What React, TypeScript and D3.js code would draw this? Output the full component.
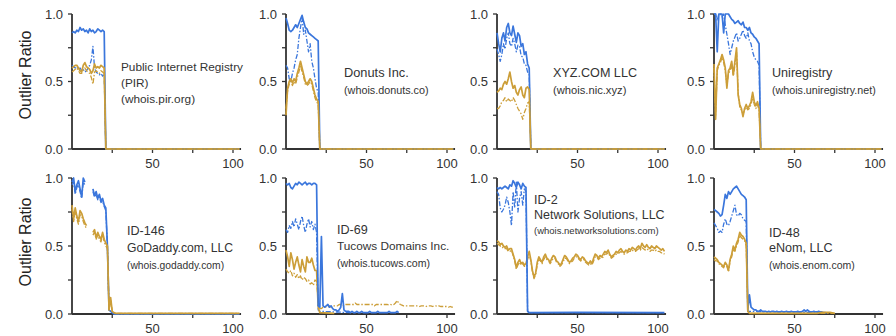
import React from "react";
import * as d3 from "d3";

type V = number | null;
type Pt = [number, number];

// ---------- data (day index starts at 0) ----------
const X_TICKS = [25, 50, 75, 100];
const X_LABELS = [50, 100];
const Y_TICKS = [0, 0.25, 0.5, 0.75, 1];
const Y_LABELS = [0, 0.5, 1];
const Y_TITLE = "Outlier Ratio";
const ZERO_TAIL: Pt[] = [[104, 0]];

// Public Internet Registry
const pirBlue: V[] = [0.86,0.87,0.86,0.88,0.87,0.9,0.88,0.89,0.87,0.88,0.86,0.89,0.87,0.88,0.86,0.87,0.89,0.88,0.87,0.88,0.87,0];
const pirBlueDash: V[] = [0.62,0.61,0.6,0.61,0.59,0.6,0.58,0.59,0.57,0.58,0.6,0.62,0.66,0.76,0.6,0.57,0.56,0.55,0.56,0.54,0.55,0];
const pirGold: V[] = [0.6,0.61,0.62,0.62,0.6,0.58,0.57,0.62,0.64,0.61,0.6,0.59,0.56,0.58,0.63,0.6,0.61,0.6,0.62,0.61,0.6,0];
const pirGoldDash: V[] = [0.57,0.58,0.59,0.6,0.58,0.56,0.56,0.59,0.6,0.58,0.57,0.56,0.53,0.48,0.57,0.58,0.57,0.56,0.58,0.57,0.56,0];

// Donuts
const donBlue: V[] = [0.97,0.93,0.88,0.87,0.88,0.9,0.92,0.9,0.93,0.96,0.99,0.94,0.9,0.89,0.86,0.85,0.84,0.83,0.82,0.81,0.8,0];
const donBlueDash: V[] = [0.62,0.6,0.52,0.5,0.56,0.6,0.66,0.7,0.82,0.9,0.97,0.85,0.88,0.8,0.72,0.78,0.65,0.6,0.52,0.45,0.42,0];
const donGold: V[] = [0.25,0.45,0.5,0.52,0.49,0.52,0.5,0.56,0.6,0.65,0.6,0.55,0.5,0.48,0.5,0.52,0.5,0.45,0.4,0.37,0.35,0];
const donGoldDash: V[] = [0.3,0.43,0.48,0.5,0.47,0.5,0.48,0.53,0.57,0.62,0.57,0.53,0.48,0.47,0.48,0.5,0.48,0.43,0.38,0.35,0.33,0];

// XYZ.COM
const xyzBlue: V[] = [0.86,0.78,0.72,0.82,0.86,0.8,0.9,0.93,0.86,0.84,0.91,0.85,0.79,0.86,0.84,0.76,0.78,0.7,0.72,0.63,0.6,0];
const xyzBlueDash: V[] = [0.74,0.7,0.65,0.7,0.78,0.74,0.82,0.86,0.78,0.76,0.82,0.78,0.72,0.77,0.76,0.69,0.68,0.63,0.62,0.57,0.55,0];
const xyzGold: V[] = [0.42,0.43,0.45,0.44,0.48,0.5,0.48,0.52,0.57,0.5,0.45,0.47,0.42,0.4,0.44,0.46,0.4,0.38,0.45,0.46,0.44,0];
const xyzGoldDash: V[] = [0.3,0.3,0.32,0.35,0.36,0.38,0.35,0.37,0.36,0.35,0.38,0.36,0.33,0.3,0.28,0.26,0.22,0.27,0.3,0.34,0.35,0];

// Uniregistry
const uniBlue: V[] = [1,1,0.72,1,1,1,0.86,1,1,1,0.98,0.96,0.95,0.93,0.94,0.95,0.93,0.92,0.94,0.9,0.9,0.88,0.9,0.86,0.85,0.83,0.82,0.8,0.78,0];
const uniBlueDash: V[] = [1,1,0.95,1,1,0.98,1,0.92,0.85,0.78,0.7,0.75,0.8,0.83,0.86,0.8,0.82,0.85,0.88,0.84,0.82,0.86,0.8,0.78,0.72,0.68,0.66,0.65,0.62,0];
const uniGold: V[] = [0.63,0.22,0.6,0.63,0.66,0.7,0.66,0.6,0.45,0.58,0.6,0.65,0.55,0.65,0.75,0.4,0.33,0.3,0.24,0.3,0.33,0.3,0.32,0.35,0.42,0.35,0.32,0.35,0.3,0];
const uniGoldDash: V[] = [0.6,0.25,0.58,0.62,0.64,0.68,0.64,0.58,0.47,0.56,0.58,0.62,0.54,0.62,0.72,0.42,0.31,0.29,0.26,0.29,0.31,0.29,0.3,0.33,0.38,0.33,0.3,0.33,0.29,0];

// GoDaddy
const goBlue: V[] = [0.97,1,0.9,0.95,0.98,0.92,0.86,1,0.97,null,null,null,null,0.92,0.87,0.9,0.85,0.88,0.83,0.85,0.8,0.78,0.5,0.03,0.02,0.01,0];
const goBlueDash: V[] = [0.95,0.97,0.88,0.93,0.95,0.9,0.85,0.97,0.95,null,null,null,null,0.9,0.86,0.88,0.84,0.86,0.82,0.83,0.79,0.76,0.5,0.03,0.02,0.01,0];
const goGold: V[] = [0.8,0.7,0.78,0.72,0.68,0.76,0.74,0.7,0.67,0.65,null,null,null,0.6,0.62,0.56,0.6,0.57,0.55,0.6,0.55,0.52,0.5,0.03,0.12,0.02,0.01,0.005];
const goGoldDash: V[] = [0.77,0.68,0.75,0.7,0.66,0.73,0.72,0.68,0.65,0.63,null,null,null,0.58,0.6,0.55,0.58,0.55,0.53,0.58,0.53,0.5,0.48,0.03,0.1,0.02,0.01,0.005];
const goGoldTail: Pt[] = [[104, 0.005]];

// Tucows
const tuBlue: V[] = [0.96,0.95,0.96,0.93,0.92,0.94,0.96,0.95,0.97,0.96,0.95,0.96,0.97,0.95,0.96,0.96,0.95,0.96,0.96,0.95,
  0.06,0.05,0.57,0.06,0.05,0.06,0.07,0.05,0.06,0.04,
  0.03,0.03,0.02,0.03,0.05,0.15,0.03,0.02,0.02,0.02,
  0.01,0.02,0.01,0.01,0.02,0.01,0.01,0.02,0.01,0.01,
  0.01,0.01,0.02,0.01,0.01,0.01,0.01,0.02,0.01,0.01,
  0.01,0.01,0.01,0.01,0.02,0.01,0.01,0.01,0.01,0.02,0.01];
const tuBlueDash: V[] = [0.62,0.6,0.65,0.63,0.68,0.64,0.7,0.66,0.62,0.68,0.72,0.65,0.6,0.66,0.7,0.64,0.68,0.62,0.66,0.6,0.03,0.02];
const tuBlueDashTail: Pt[] = [[40, 0.01]];
const tuGold: V[] = [0.47,0.42,0.35,0.45,0.4,0.33,0.38,0.42,0.36,0.31,0.4,0.35,0.31,0.42,0.38,0.38,0.41,0.36,0.32,0.32,0.05,0.01];
const tuGoldTail: Pt[] = [[30, 0.005]];
const tuGoldDash: V[] = [0.33,0.31,0.3,0.32,0.28,0.3,0.27,0.29,0.26,0.28,0.25,0.27,0.26,0.24,0.25,0.22,0.23,0.21,0.25,0.24,
  0.1,0.04,0.04,0.05,0.05,0.05,0.05,0.06,0.05,0.06,
  0.06,0.06,0.06,0.07,0.07,0.07,0.06,0.07,0.07,0.07,
  0.07,0.07,0.07,0.08,0.07,0.07,0.07,0.07,0.07,0.07,
  0.07,0.07,0.07,0.07,0.07,0.06,0.07,0.07,0.07,0.07,
  0.07,0.07,0.07,0.07,0.065,0.07,0.065,0.07,0.08,0.1,
  0.08,0.07,0.065,0.06,0.06,0.06,0.06,0.06,0.06,0.06,
  0.06,0.06,0.06,0.055,0.06,0.06,0.06,0.055,0.06,0.06,
  0.06,0.055,0.06,0.06,0.055,0.06,0.055,0.055,0.055,0.055,
  0.055,0.05,0.055,0.05,0.05];

// Network Solutions
const nsBlue: V[] = [0.93,0.92,0.93,0.92,0.93,0.94,0.93,0.92,0.95,0.94,0.98,0.96,0.93,0.97,0.95,0.92,0.96,0.94,0.93,0.02,0.01];
const nsBlueTail: Pt[] = [[50, 0.012], [104, 0.01]];
const nsBlueDash: V[] = [0.9,0.88,0.78,0.75,0.77,0.8,0.86,0.82,0.75,0.65,0.9,0.78,0.97,0.75,0.85,0.9,0.8,0.92,0.9,0.02,0.01];
const nsBlueDashTail: Pt[] = [[104, 0.01]];
const nsGold: V[] = [0.54,0.53,0.51,0.52,0.5,0.49,0.5,0.47,0.48,0.48,0.44,0.4,0.34,0.38,0.4,0.37,0.38,0.36,0.37,0.42,
  0.46,0.4,0.32,0.27,0.3,0.38,0.42,0.4,0.38,0.42,
  0.44,0.41,0.4,0.38,0.41,0.43,0.42,0.39,0.38,0.36,
  0.37,0.4,0.43,0.42,0.4,0.38,0.39,0.41,0.42,0.44,
  0.43,0.41,0.4,0.42,0.41,0.39,0.38,0.37,0.39,0.37,
  0.41,0.44,0.43,0.41,0.43,0.42,0.44,0.46,0.45,0.47,
  0.44,0.42,0.43,0.44,0.46,0.45,0.47,0.48,0.46,0.45,
  0.47,0.46,0.48,0.47,0.49,0.48,0.47,0.49,0.5,0.48,
  0.52,0.5,0.49,0.51,0.49,0.48,0.5,0.49,0.48,0.5,
  0.49,0.48,0.47,0.48,0.46];
const nsGoldDash: V[] = [0.52,0.51,0.5,0.5,0.48,0.48,0.48,0.46,0.46,0.47,0.43,0.39,0.33,0.36,0.38,0.36,0.37,0.35,0.36,0.4,
  0.44,0.39,0.31,0.26,0.29,0.36,0.4,0.39,0.37,0.4,
  0.42,0.4,0.39,0.37,0.39,0.41,0.41,0.38,0.37,0.35,
  0.36,0.38,0.41,0.41,0.39,0.37,0.38,0.39,0.41,0.42,
  0.42,0.4,0.39,0.4,0.4,0.38,0.37,0.36,0.37,0.36,
  0.39,0.42,0.42,0.4,0.41,0.41,0.42,0.44,0.44,0.45,
  0.43,0.41,0.42,0.43,0.44,0.44,0.45,0.46,0.45,0.44,
  0.45,0.45,0.46,0.46,0.47,0.46,0.46,0.47,0.48,0.47,
  0.49,0.48,0.47,0.48,0.47,0.46,0.47,0.47,0.46,0.47,
  0.46,0.46,0.45,0.45,0.44];

// eNom
const enBlue: V[] = [0.77,0.76,0.75,0.74,0.72,0.73,0.8,0.88,0.85,0.9,0.88,0.9,0.92,0.93,0.94,0.92,0.9,0.88,0.87,0.86,0.84,
  0.03,0.14,0.05,0.04,0.03,0.03,0.02,0.02,0.03,
  0.02,0.02,0.02,0.015,0.02,0.015,0.02,0.02,0.015,0.02,
  0.015,0.015,0.02,0.015,0.015,0.02,0.015,0.015,0.02,0.015,
  0.015,0.015,0.02,0.015,0.015,0.02,0.03,0.02,0.03,0.02,
  0.015,0.015,0.02,0.015,0.015,0.02,0.015,0.015,0.01,0.01,0.005];
const enBlueDash: V[] = [0.67,0.65,0.63,0.6,0.61,0.6,0.66,0.7,0.66,0.65,0.68,0.72,0.76,0.8,0.73,0.72,0.74,0.73,0.7,0.69,0.68,0.02];
const enBlueDashTail: Pt[] = [[70, 0.01]];
const enGold: V[] = [0.42,0.41,0.4,0.38,0.37,0.36,0.35,0.38,0.36,0.32,0.4,0.44,0.5,0.47,0.52,0.55,0.6,0.58,0.57,0.55,0.52,0.02,0.005];
const enGoldTail: Pt[] = [[64, 0.005], [67, 0.012], [72, 0.012], [75, 0.005]];
const enGoldDash: V[] = [0.4,0.39,0.39,0.37,0.36,0.35,0.34,0.37,0.35,0.31,0.39,0.42,0.48,0.46,0.5,0.53,0.58,0.56,0.55,0.54,0.5,0.02,0.005];
const enGoldDashTail: Pt[] = [[75, 0.005]];

const PANEL_TEXT: string[][] = [
  ["Public Internet Registry", "(PIR)", "(whois.pir.org)"],
  ["Donuts Inc.", "(whois.donuts.co)"],
  ["XYZ.COM LLC", "(whois.nic.xyz)"],
  ["Uniregistry", "(whois.uniregistry.net)"],
  ["ID-146", "GoDaddy.com, LLC", "(whois.godaddy.com)"],
  ["ID-69", "Tucows Domains Inc.", "(whois.tucows.com)"],
  ["ID-2", "Network Solutions, LLC", "(whois.networksolutions.com)"],
  ["ID-48", "eNom, LLC", "(whois.enom.com)"],
];

type S = { values: V[]; tail?: Pt[]; kind: "b" | "bd" | "g" | "gd" };
const PANEL_SERIES: S[][] = [
  [{ values: pirBlueDash, tail: ZERO_TAIL, kind: "bd" }, { values: pirBlue, tail: ZERO_TAIL, kind: "b" }, { values: pirGoldDash, tail: ZERO_TAIL, kind: "gd" }, { values: pirGold, tail: ZERO_TAIL, kind: "g" }],
  [{ values: donBlueDash, tail: ZERO_TAIL, kind: "bd" }, { values: donBlue, tail: ZERO_TAIL, kind: "b" }, { values: donGoldDash, tail: ZERO_TAIL, kind: "gd" }, { values: donGold, tail: ZERO_TAIL, kind: "g" }],
  [{ values: xyzBlueDash, tail: ZERO_TAIL, kind: "bd" }, { values: xyzBlue, tail: ZERO_TAIL, kind: "b" }, { values: xyzGoldDash, tail: ZERO_TAIL, kind: "gd" }, { values: xyzGold, tail: ZERO_TAIL, kind: "g" }],
  [{ values: uniBlueDash, tail: ZERO_TAIL, kind: "bd" }, { values: uniBlue, tail: ZERO_TAIL, kind: "b" }, { values: uniGoldDash, tail: ZERO_TAIL, kind: "gd" }, { values: uniGold, tail: ZERO_TAIL, kind: "g" }],
  [{ values: goBlueDash, tail: ZERO_TAIL, kind: "bd" }, { values: goBlue, tail: ZERO_TAIL, kind: "b" }, { values: goGoldDash, tail: goGoldTail, kind: "gd" }, { values: goGold, tail: goGoldTail, kind: "g" }],
  [{ values: tuBlueDash, tail: tuBlueDashTail, kind: "bd" }, { values: tuGold, tail: tuGoldTail, kind: "g" }, { values: tuGoldDash, kind: "gd" }, { values: tuBlue, kind: "b" }],
  [{ values: nsBlueDash, tail: nsBlueDashTail, kind: "bd" }, { values: nsGoldDash, kind: "gd" }, { values: nsGold, kind: "g" }, { values: nsBlue, tail: nsBlueTail, kind: "b" }],
  [{ values: enBlueDash, tail: enBlueDashTail, kind: "bd" }, { values: enBlue, kind: "b" }, { values: enGoldDash, tail: enGoldDashTail, kind: "gd" }, { values: enGold, tail: enGoldTail, kind: "g" }],
];

// ---------- layout / style ----------
const W = 896, H = 336;
const COL_X = [72, 286, 497, 714];
const ROW_Y = [[149, 14], [314, 178]]; // [y(0), y(1)]
const PX_PER_DAY = 1.61;
const X_DOMAIN_END = 105;
const TEXT_POS = [
  { x: 121, y: [67, 83, 99], fs: [11.8, 11.8, 11.8] },
  { x: 344, y: [73, 90], fs: [12.8, 10.8] },
  { x: 553, y: [73, 90], fs: [12.6, 11.2] },
  { x: 772, y: [73, 90], fs: [12.6, 10.7] },
  { x: 127, y: [231, 248, 265], fs: [12.6, 12.2, 10.3] },
  { x: 337, y: [230, 246, 263], fs: [12.6, 11.8, 10.6] },
  { x: 534, y: [200, 215, 231], fs: [12.6, 12.5, 9.5] },
  { x: 769, y: [233, 248, 265], fs: [12.6, 12.6, 10.5] },
];
const BLUE = "#3a76dc";
const GOLD = "#cc9e38";
const AXIS = "#333333";
const TEXT = "#333";
const FONT = "'Liberation Sans', Arial, Helvetica, sans-serif";
const STYLE: Record<string, { stroke: string; width: number; dash?: string }> = {
  b: { stroke: BLUE, width: 1.7 },
  bd: { stroke: BLUE, width: 1.3, dash: "5,1.8,1.5,1.8" },
  g: { stroke: GOLD, width: 1.7 },
  gd: { stroke: GOLD, width: 1.3, dash: "5,1.8,1.5,1.8" },
};

function Panel({ i }: { i: number }) {
  const col = i % 4, row = Math.floor(i / 4);
  const x0 = COL_X[col];
  const x = d3.scaleLinear().domain([0, X_DOMAIN_END]).range([x0, x0 + X_DOMAIN_END * PX_PER_DAY]);
  const y = d3.scaleLinear().domain([0, 1]).range(ROW_Y[row]);
  const line = d3
    .line<[number, V]>()
    .defined((d) => d[1] != null)
    .x((d) => x(d[0]))
    .y((d) => y(d[1] as number));
  const tp = TEXT_POS[i];
  return (
    <g>
      <line x1={x0} x2={x0} y1={y(0)} y2={y(1)} stroke={AXIS} strokeWidth={1.8} />
      <line x1={x0} x2={x(X_DOMAIN_END)} y1={y(0)} y2={y(0)} stroke={AXIS} strokeWidth={1.8} />
      {Y_TICKS.map((t) => (
        <line key={"yt" + t} x1={x0 - 4} x2={x0} y1={y(t)} y2={y(t)} stroke={AXIS} strokeWidth={1.3} />
      ))}
      {Y_LABELS.map((t) => (
        <text key={"yl" + t} x={x0 - 9} y={y(t)} dy="0.35em" textAnchor="end" fontSize={13} fill={TEXT} fontFamily={FONT}>
          {d3.format(".1f")(t)}
        </text>
      ))}
      {X_TICKS.map((t) => (
        <line key={"xt" + t} x1={x(t)} x2={x(t)} y1={y(0)} y2={y(0) + 4} stroke={AXIS} strokeWidth={1.3} />
      ))}
      {X_LABELS.map((t) => (
        <text key={"xl" + t} x={x(t)} y={y(0) + 19} textAnchor="middle" fontSize={13} fill={TEXT} fontFamily={FONT}>
          {t}
        </text>
      ))}
      {PANEL_SERIES[i].map((s, k) => {
        const pts: [number, V][] = s.values.map((v, d) => [d, v] as [number, V]);
        if (s.tail) s.tail.forEach((p) => pts.push([p[0], p[1]]));
        const st = STYLE[s.kind];
        return (
          <path
            key={k}
            d={line(pts) || ""}
            fill="none"
            stroke={st.stroke}
            strokeWidth={st.width}
            strokeDasharray={st.dash}
            strokeLinejoin="round"
          />
        );
      })}
      {PANEL_TEXT[i].map((t, k) => (
        <text key={"a" + k} x={tp.x} y={tp.y[k]} dy="0.35em" fontSize={tp.fs[k]} fill={TEXT} fontFamily={FONT}>
          {t}
        </text>
      ))}
    </g>
  );
}

export default function App() {
  return (
    <svg
      width={W}
      height={H}
      viewBox={`0 0 ${W} ${H}`}
      style={{ position: "absolute", left: 0, top: 0, background: "#fff" }}
    >
      <rect width={W} height={H} fill="#fff" />
      {[0, 1].map((r) => (
        <text
          key={"yt" + r}
          transform={`translate(25,${r === 0 ? 75 : 242}) rotate(-90)`}
          dy="0.35em"
          textAnchor="middle"
          fontSize={16}
          fill="#222"
          fontFamily={FONT}
        >
          {Y_TITLE}
        </text>
      ))}
      {d3.range(8).map((i) => (
        <Panel key={i} i={i} />
      ))}
    </svg>
  );
}
